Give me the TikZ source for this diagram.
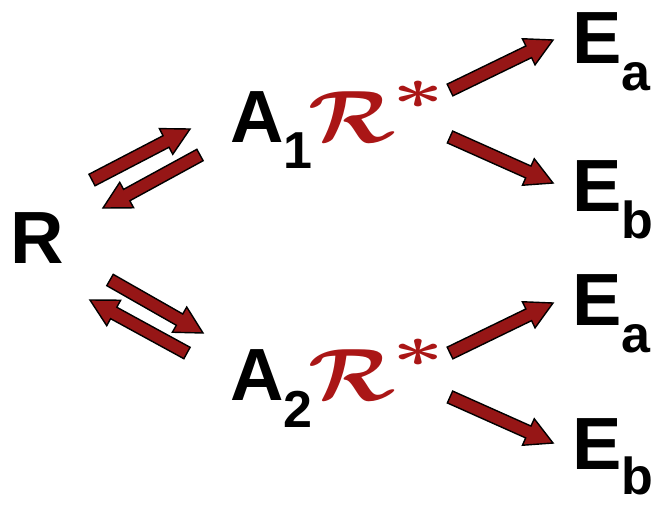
\documentclass[tikz,border=0pt]{standalone}
\usepackage{graphicx}
\usepackage{fontspec}
\setmainfont{Liberation Sans}
\usetikzlibrary{calc}
\definecolor{arrowred}{RGB}{150,22,22}
\definecolor{starred}{RGB}{170,22,22}
\newcommand\bigfont{\fontsize{74}{74}\selectfont\bfseries}
\newcommand\subfont{\fontsize{52}{52}\selectfont\bfseries}
\newcommand\calR{\scalebox{8.8}[7.4]{\fontsize{10}{10}\selectfont\boldmath$\mathcal{R}$}}
\newcommand\bigast{\scalebox{9}[5.8]{\fontsize{10}{10}\selectfont\boldmath$\ast$}}
\newcommand\blockarr[2]{%
  \coordinate (hb) at ($(#2)!27pt!(#1)$);
  \filldraw[arr] ($(#1)!6.5pt!90:(#2)$) -- ($(hb)!6.5pt!90:(#2)$) -- ($(hb)!14.5pt!90:(#2)$) -- (#2)
    -- ($(hb)!14.5pt!-90:(#2)$) -- ($(hb)!6.5pt!-90:(#2)$) -- ($(#1)!6.5pt!-90:(#2)$) -- cycle;}
\begin{document}
\begin{tikzpicture}[x=1pt,y=-1pt,
  lbl/.style={inner sep=0pt, anchor=base west, font=\bigfont},
  rstar/.style={inner sep=0pt, anchor=base west, text=starred, font=\bigfont},
  arr/.style={fill=arrowred, draw=black, line width=1.4pt, line join=miter}]
\useasboundingbox[fill=white] (0,0) rectangle (652,504);
% labels
\node[lbl] (R) at (10,263) {R};
\node[lbl] (A1) at (230,142) {A\raisebox{-26pt}{\subfont 1}};
\node[rstar] (S1) at (308,142) {\calR\kern-3pt\raisebox{34pt}{\bigast}};
\node[lbl] (A2) at (230,400) {A\raisebox{-27pt}{\subfont 2}};
\node[rstar] (S2) at (308,400) {\calR\kern-3pt\raisebox{34pt}{\bigast}};
\node[lbl] (Ea1) at (572,63) {E\raisebox{-27pt}{\subfont a}};
\node[lbl] (Eb1) at (572,211) {E\raisebox{-27pt}{\subfont b}};
\node[lbl] (Ea2) at (572,325) {E\raisebox{-27pt}{\subfont a}};
\node[lbl] (Eb2) at (572,469) {E\raisebox{-25pt}{\subfont b}};
% arrow end points
\coordinate (f1t) at (92,180);  \coordinate (f1h) at (190,129);
\coordinate (b1t) at (200,155); \coordinate (b1h) at (103,208);
\coordinate (f2t) at (110,280); \coordinate (f2h) at (203,333);
\coordinate (b2t) at (187,353); \coordinate (b2h) at (90,300);
\coordinate (u1t) at (450,90);  \coordinate (u1h) at (553,40);
\coordinate (d1t) at (450,137); \coordinate (d1h) at (553,183);
\coordinate (u2t) at (450,353); \coordinate (u2h) at (553,303);
\coordinate (d2t) at (450,397); \coordinate (d2h) at (553,443);
% arrows
\blockarr{f1t}{f1h}
\blockarr{b1t}{b1h}
\blockarr{f2t}{f2h}
\blockarr{b2t}{b2h}
\blockarr{u1t}{u1h}
\blockarr{d1t}{d1h}
\blockarr{u2t}{u2h}
\blockarr{d2t}{d2h}
\end{tikzpicture}
\end{document}
